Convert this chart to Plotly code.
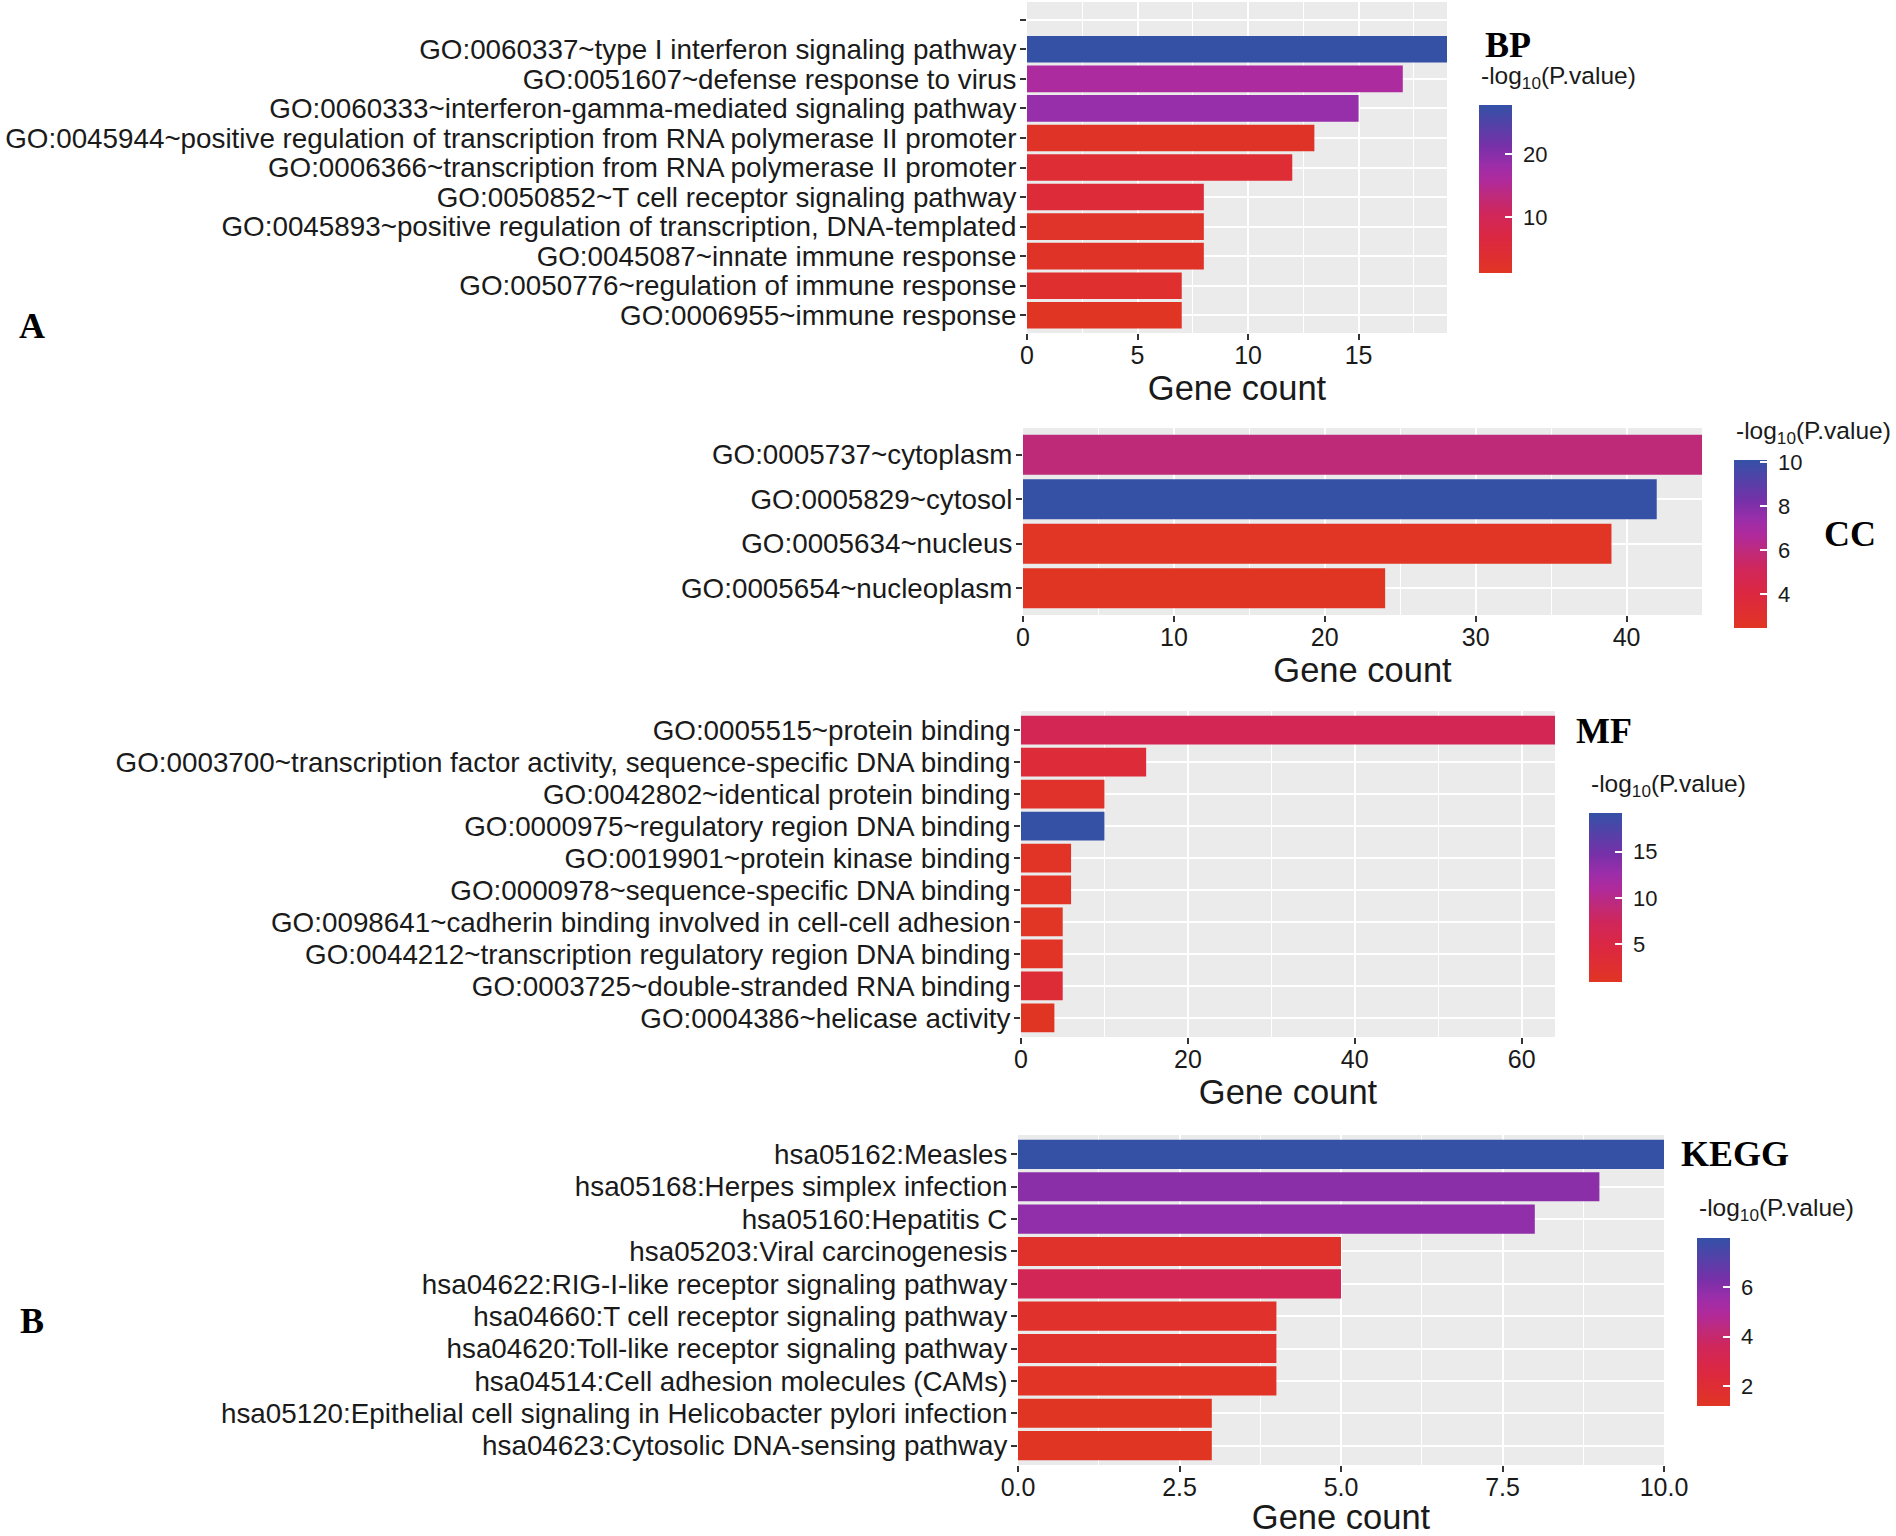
import plotly.graph_objects as go

W, H = 1896, 1536

# ---------------- data ----------------
bp_terms = [
    "",
    "GO:0060337~type I interferon signaling pathway",
    "GO:0051607~defense response to virus",
    "GO:0060333~interferon-gamma-mediated signaling pathway",
    "GO:0045944~positive regulation of transcription from RNA polymerase II promoter",
    "GO:0006366~transcription from RNA polymerase II promoter",
    "GO:0050852~T cell receptor signaling pathway",
    "GO:0045893~positive regulation of transcription, DNA-templated",
    "GO:0045087~innate immune response",
    "GO:0050776~regulation of immune response",
    "GO:0006955~immune response",
]
bp_count = [None, 19, 17, 15, 13, 12, 8, 8, 8, 7, 7]
bp_logp = [None, 27.8, 16.3, 18.7, 1.9, 4.3, 5.1, 2.0, 1.8, 3.2, 1.1]

cc_terms = [
    "GO:0005737~cytoplasm",
    "GO:0005829~cytosol",
    "GO:0005634~nucleus",
    "GO:0005654~nucleoplasm",
]
cc_count = [45, 42, 39, 24]
cc_logp = [5.9, 10.1, 2.5, 2.45]

mf_terms = [
    "GO:0005515~protein binding",
    "GO:0003700~transcription factor activity, sequence-specific DNA binding",
    "GO:0042802~identical protein binding",
    "GO:0000975~regulatory region DNA binding",
    "GO:0019901~protein kinase binding",
    "GO:0000978~sequence-specific DNA binding",
    "GO:0098641~cadherin binding involved in cell-cell adhesion",
    "GO:0044212~transcription regulatory region DNA binding",
    "GO:0003725~double-stranded RNA binding",
    "GO:0004386~helicase activity",
]
mf_count = [64, 15, 10, 10, 6, 6, 5, 5, 5, 4]
mf_logp = [6.7, 3.6, 1.8, 19.2, 1.1, 1.2, 1.0, 1.1, 3.3, 0.87]

kegg_terms = [
    "hsa05162:Measles",
    "hsa05168:Herpes simplex infection",
    "hsa05160:Hepatitis C",
    "hsa05203:Viral carcinogenesis",
    "hsa04622:RIG-I-like receptor signaling pathway",
    "hsa04660:T cell receptor signaling pathway",
    "hsa04620:Toll-like receptor signaling pathway",
    "hsa04514:Cell adhesion molecules (CAMs)",
    "hsa05120:Epithelial cell signaling in Helicobacter pylori infection",
    "hsa04623:Cytosolic DNA-sensing pathway",
]
kegg_count = [10, 9, 8, 5, 5, 4, 4, 4, 3, 3]
kegg_logp = [7.97, 5.9, 5.8, 1.5, 3.4, 1.6, 1.5, 1.3, 1.2, 1.2]

# ---------------- style ----------------
SANS = "Liberation Sans, Arimo, Arial, sans-serif"
SERIF = "Liberation Serif, Tinos, Times New Roman, serif"
TXT = "#1a1a1a"
NB = "\u00a0"
colorscale = [
    [0.00, "#E13524"],
    [0.20, "#DC2840"],
    [0.35, "#D0265A"],
    [0.45, "#BF2A78"],
    [0.55, "#B02A9C"],
    [0.65, "#9A2EAA"],
    [0.75, "#7830A8"],
    [0.87, "#5740A8"],
    [1.00, "#3451A6"],
]

# panel layout in pixels: plot area (x0, x1, y0, y1), colorbar (x, ytop, ybottom), dticks
panels = [
    dict(terms=bp_terms, count=bp_count, logp=bp_logp, area=(1027, 1447, 2, 333),
         cb=(1479, 105, 273), xd=5, xfmt="", cbd=10, cbtitle_y=77,
         tag="BP", tag_pos=(1483, 45, "left")),
    dict(terms=cc_terms, count=cc_count, logp=cc_logp, area=(1023, 1702, 428, 615),
         cb=(1734, 460, 628), xd=10, xfmt="", cbd=2, cbtitle_y=432,
         tag="CC", tag_pos=(1850, 534, "center")),
    dict(terms=mf_terms, count=mf_count, logp=mf_logp, area=(1021, 1555, 711, 1037),
         cb=(1589, 813, 982), xd=20, xfmt="", cbd=5, cbtitle_y=785,
         tag="MF", tag_pos=(1574, 731, "left")),
    dict(terms=kegg_terms, count=kegg_count, logp=kegg_logp, area=(1018, 1664, 1135, 1465),
         cb=(1697, 1238, 1406), xd=2.5, xfmt=".1f", cbd=2, cbtitle_y=1209,
         tag="KEGG", tag_pos=(1679, 1154, "left")),
]

fig = go.Figure()
layout = dict(
    width=W, height=H, autosize=False,
    margin=dict(l=0, r=0, t=0, b=0, pad=0, autoexpand=False),
    paper_bgcolor="white", plot_bgcolor="#EBEBEB",
    showlegend=False,
    font=dict(family=SANS, color=TXT),
    annotations=[],
)

for i, p in enumerate(panels, start=1):
    sfx = "" if i == 1 else str(i)
    x0, x1, y0, y1 = p["area"]
    n = len(p["terms"])
    vals = [v for v in p["logp"] if v is not None]
    cmin, cmax = min(vals), max(vals)
    colors = [v if v is not None else cmin for v in p["logp"]]
    xmax = max(v for v in p["count"] if v is not None)
    fig.add_trace(go.Bar(
        x=p["count"], y=list(range(n)), orientation="h", width=0.9,
        marker=dict(color=colors, coloraxis="coloraxis" + sfx, line=dict(width=0)),
        xaxis="x" + sfx, yaxis="y" + sfx,
        hovertemplate="%{x}<extra></extra>",
    ))
    cbx, cbt, cbb = p["cb"]
    layout["coloraxis" + sfx] = dict(
        colorscale=colorscale, cmin=cmin, cmax=cmax,
        colorbar=dict(
            x=cbx / W, xanchor="left", y=1 - cbt / H, yanchor="top",
            len=cbb - cbt, lenmode="pixels", thickness=33, thicknessmode="pixels",
            xpad=0, ypad=0, outlinewidth=0,
            ticks="inside", ticklen=7, tickwidth=1.5, tickcolor="white",
            tick0=0, dtick=p["cbd"], tickprefix=NB,
            tickfont=dict(size=22, color=TXT, family=SANS),
            title=dict(text=""),
        ),
    )
    layout["xaxis" + sfx] = dict(
        domain=[x0 / W, x1 / W], anchor="y" + sfx, range=[0, xmax], automargin=False,
        tick0=0, dtick=p["xd"], tickformat=p["xfmt"],
        ticks="outside", ticklen=6, tickwidth=1.5, tickcolor="#333333", ticklabelstandoff=-6,
        tickfont=dict(size=25, color=TXT, family=SANS),
        showgrid=True, gridcolor="white", gridwidth=2.2, zeroline=False, showline=False,
        minor=dict(dtick=p["xd"] / 2, tick0=0, showgrid=True, gridcolor="white", gridwidth=1.1, ticks=""),
        title=dict(text="Gene count", font=dict(size=34.5, color=TXT, family=SANS), standoff=4),
        fixedrange=True,
    )
    layout["yaxis" + sfx] = dict(
        domain=[1 - y1 / H, 1 - y0 / H], anchor="x" + sfx, automargin=False,
        range=[n - 0.4, -0.6], tickmode="array", tickvals=list(range(n)), ticktext=p["terms"],
        ticks="outside", ticklen=6, tickwidth=1.5, tickcolor="#333333", ticklabelstandoff=-2,
        tickfont=dict(size=27.8, color=TXT, family=SANS),
        showgrid=True, gridcolor="white", gridwidth=2.2, zeroline=False, showline=False,
        fixedrange=True,
    )
    layout["annotations"].append(dict(
        text="-log<sub>10</sub>(P.value)", xref="paper", yref="paper",
        x=cbx / W, y=1 - p["cbtitle_y"] / H, xanchor="left", yanchor="middle",
        showarrow=False, font=dict(size=24.5, color=TXT, family=SANS),
    ))
    tx, ty, ta = p["tag_pos"]
    layout["annotations"].append(dict(
        text="<b>%s</b>" % p["tag"], xref="paper", yref="paper",
        x=tx / W, y=1 - ty / H, xanchor=ta, yanchor="middle",
        showarrow=False, font=dict(size=36, color="black", family=SERIF),
    ))

for lab, (lx, ly) in [("A", (32, 326)), ("B", (32, 1321))]:
    layout["annotations"].append(dict(
        text="<b>%s</b>" % lab, xref="paper", yref="paper",
        x=lx / W, y=1 - ly / H, xanchor="center", yanchor="middle",
        showarrow=False, font=dict(size=36, color="black", family=SERIF),
    ))

fig.update_layout(**layout)
fig.write_html(
    "out.html",
    config={"displayModeBar": False},
    post_script="document.body.style.margin='0';document.body.style.padding='0';"
                "document.documentElement.style.overflow='hidden';",
)
